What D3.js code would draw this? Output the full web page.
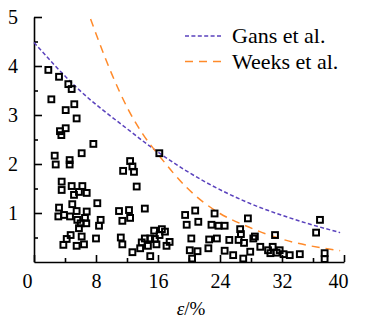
<!DOCTYPE html>
<html>
<head>
<meta charset="utf-8">
<script src="https://cdn.jsdelivr.net/npm/d3@7"></script>
<style>
  body { margin: 0; background: #fff; }
  svg text { font-family: "Liberation Serif", "DejaVu Serif", serif; fill: #000; }
</style>
</head>
<body>
<div id="chart"></div>
<script>
// measured points (strain %, value)
const points = [
  [1.85,3.92],[3.23,3.78],[4.43,3.63],[4.86,3.53],[2.24,3.32],[5.2,3.22],[4.09,3.10],[5.5,2.93],
  [3.35,2.67],[4.09,2.73],[3.53,2.59],[7.66,2.41],[6.15,2.22],[2.67,2.17],[2.8,1.99],[4.6,2.08],
  [4.6,1.99],[11.5,1.86],[12.4,2.06],[12.7,1.95],[12.9,1.84],[3.57,1.64],[3.57,1.47],[4.86,1.55],
  [5.16,1.37],[5.8,1.43],[6.24,1.55],[6.8,1.41],[8.17,1.20],[10.97,1.04],[12.26,1.06],[3.23,1.11],
  [4.94,1.18],[3.14,0.93],[3.87,0.96],[4.65,0.93],[5.5,1.04],[6.8,1.03],[5.59,0.86],[6.58,0.90],
  [8.6,0.86],[11.4,0.84],[12.4,0.90],[6.02,0.79],[6.75,0.79],[8.39,0.74],[5.8,0.69],[4.73,0.55],
  [4.22,0.47],[6.15,0.52],[8.0,0.48],[3.79,0.35],[5.5,0.33],[6.45,0.36],[11.2,0.50],[11.4,0.36],
  [12.7,0.20],[16.17,2.22],[13.25,1.54],[14.3,1.09],[19.5,0.96],[19.7,0.76],
  [13.7,0.28],[13.9,0.40],[14.3,0.48],[15.0,0.48],[15.5,0.64],[15.6,0.47],[16.2,0.55],[16.5,0.67],
  [16.9,0.62],[17.5,0.41],[17.1,0.33],[15.0,0.12],[14.7,0.33],[15.8,0.36],
  [20.8,1.05],[21.2,0.82],[23.3,0.99],[22.9,0.76],[23.8,0.74],[24.6,0.74],[27.6,0.89],[20.3,0.48],
  [22.6,0.46],[23.6,0.48],[22.5,0.28],[20.1,0.24],[21.1,0.22],[20.4,0.07],[24.6,0.23],[25.7,0.14],
  [25.2,0.45],[26.4,0.45],[26.6,0.67],[26.7,0.57],[27.1,0.39],[27.9,0.21],[28.3,0.48],[27.0,0.07],
  [36.9,0.86],[36.4,0.60],[31.1,0.55],[29.2,0.31],[28.5,0.52],[30.2,0.24],[30.8,0.31],[30.5,0.18],
  [31.3,0.19],[31.7,0.24],[32.2,0.16],[33.0,0.14],[34.3,0.16],[37.5,0.18],[37.5,0.06]
];

// model curves
const gansCurve = [[0,4.48],[5.5,3.56],[12,2.72],[16.2,2.22],[21.8,1.66],[27.2,1.24],[33,0.9],[39.5,0.60]];
const weeksCurve = [[7.3,4.96],[10,3.85],[12.2,3.10],[14,2.62],[16.2,2.16],[19.7,1.52],[24,0.99],[27,0.76],[31.3,0.50],[39.5,0.23]];

const xTicks = [0, 8, 16, 24, 32, 40];
const xMinor = [4, 12, 20, 28, 36];
const yTicks = [1, 2, 3, 4, 5];
const yMinor = [0.5, 1.5, 2.5, 3.5, 4.5];

const legendItems = [
  { label: "Gans et al.", color: "#5a42bd", dash: "4,2.4" },
  { label: "Weeks et al.", color: "#ff8a2a", dash: "8,6" }
];

let margin = { top: 17, right: 23, bottom: 60, left: 34 };
let width = 367 - margin.left - margin.right;
let height = 322 - margin.top - margin.bottom;

let svg = d3.select("#chart").append("svg")
    .attr("width", 367)
    .attr("height", 322);

let g = svg.append("g")
    .attr("transform", `translate(${margin.left}, ${margin.top})`);

let x = d3.scaleLinear().domain([0, 40]).range([0, width]);
let y = d3.scaleLinear().domain([0, 5]).range([height, 0]);

// axes, ticks point inward
let xAxis = g.append("g")
    .attr("class", "axis axis--x")
    .attr("transform", `translate(0, ${height})`)
    .call(d3.axisBottom(x).tickValues(xTicks).tickFormat(d3.format("d"))
        .tickSizeInner(-7).tickSizeOuter(0).tickPadding(12));
xAxis.append("g")
    .call(d3.axisBottom(x).tickValues(xMinor).tickSize(-4).tickFormat(""))
    .select(".domain").remove();

let yAxis = g.append("g")
    .attr("class", "axis axis--y")
    .call(d3.axisLeft(y).tickValues(yTicks).tickFormat(d3.format("d"))
        .tickSizeInner(-8).tickSizeOuter(0).tickPadding(16));
yAxis.append("g")
    .call(d3.axisLeft(y).tickValues(yMinor).tickSize(-4).tickFormat(""))
    .select(".domain").remove();

g.selectAll(".axis path, .axis line")
    .attr("stroke", "#000")
    .attr("stroke-width", 1.6);
g.selectAll(".axis text")
    .style("font-size", "20px")
    .attr("fill", "#000");

// nudge end labels on x like the original
xAxis.selectAll(".tick text")
    .attr("dx", d => d === 0 ? -7 : d === 40 ? -6 : 0);

// curves
let line = d3.line()
    .curve(d3.curveMonotoneX)
    .x(d => x(d[0]))
    .y(d => y(d[1]));

g.append("path")
    .datum(gansCurve)
    .attr("d", line)
    .attr("fill", "none")
    .attr("stroke", legendItems[0].color)
    .attr("stroke-width", 1.5)
    .attr("stroke-dasharray", legendItems[0].dash);

g.append("path")
    .datum(weeksCurve)
    .attr("d", line)
    .attr("fill", "none")
    .attr("stroke", legendItems[1].color)
    .attr("stroke-width", 1.5)
    .attr("stroke-dasharray", legendItems[1].dash);

// scatter squares
let s = 5.8;
g.append("g")
    .selectAll("rect")
    .data(points)
    .enter().append("rect")
    .attr("x", d => x(d[0]) - s / 2)
    .attr("y", d => y(d[1]) - s / 2)
    .attr("width", s)
    .attr("height", s)
    .attr("fill", "none")
    .attr("stroke", "#000")
    .attr("stroke-width", 2);

// legend
let legend = svg.append("g")
    .attr("transform", "translate(185, 36)");
legendItems.forEach((item, i) => {
    let row = legend.append("g").attr("transform", `translate(0, ${i * 25.5})`);
    row.append("line")
        .attr("x1", 0).attr("x2", 38)
        .attr("y1", 0).attr("y2", 0)
        .attr("stroke", item.color)
        .attr("stroke-width", 1.6)
        .attr("stroke-dasharray", item.dash);
    row.append("text")
        .attr("x", 47)
        .attr("y", 7)
        .style("font-size", "22px")
        .text(item.label);
});

// axis title
svg.append("text")
    .attr("x", margin.left + width / 2 + 2)
    .attr("y", 315)
    .attr("text-anchor", "middle")
    .style("font-size", "19px")
    .html('<tspan font-style="italic">ε</tspan>/%');
</script>
</body>
</html>
